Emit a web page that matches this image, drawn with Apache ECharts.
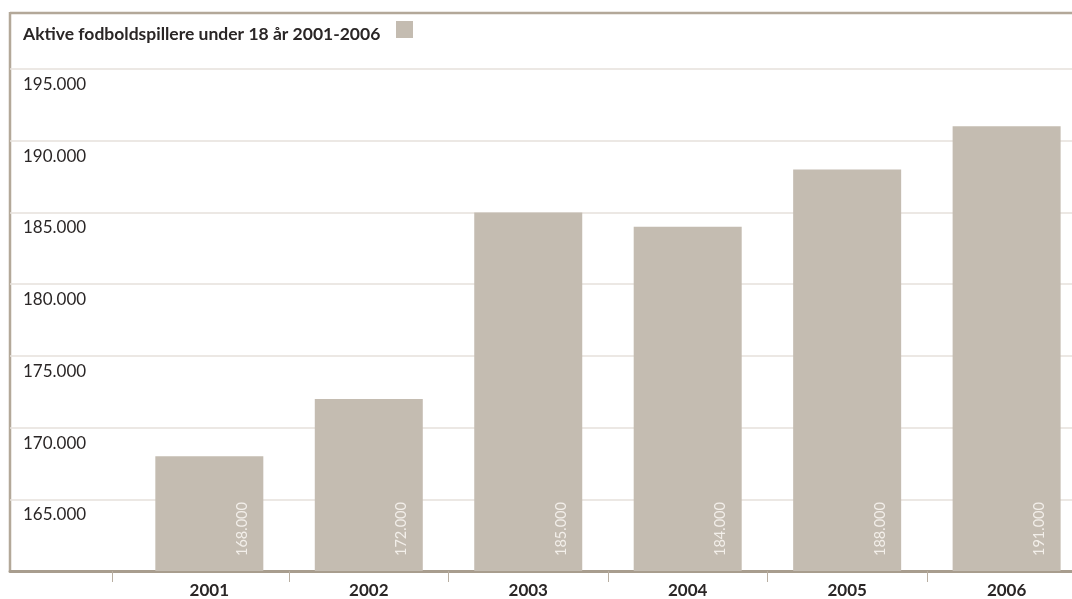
<!DOCTYPE html>
<html><head><meta charset="utf-8">
<script src="https://cdn.jsdelivr.net/npm/echarts@6/dist/echarts.min.js"></script>
<style>html,body{margin:0;padding:0;background:#fff}#c{width:1072px;height:599px}</style>
</head><body><div id="c"></div>
<script>
const titleText = 'Aktive fodboldspillere under 18 år 2001-2006';
const seriesName = 'Aktive fodboldspillere';
const years = [2001, 2002, 2003, 2004, 2005, 2006];
const players = [168000, 172000, 185000, 184000, 188000, 191000];
const yTickValues = [165000, 170000, 175000, 180000, 185000, 190000, 195000];
const xBoundaryTicks = [2000.39, 2001.5, 2002.5, 2003.5, 2004.5, 2005.5];

const fmt = v => String(v).replace(/\B(?=(\d{3})+(?!\d))/g, '.');
const FONT = 'Lato';
const frameColor = '#b3a899';
const barColor = '#c4bcb1';

const chart = echarts.init(document.getElementById('c'), null, {renderer: 'canvas'});
chart.setOption({
  animation: false,
  backgroundColor: '#fff',
  textStyle: {fontFamily: FONT},
  title: {
    text: titleText, left: 18, top: 18,
    textStyle: {fontFamily: FONT, fontSize: 17.5, fontWeight: 'bold', color: '#2a2626', lineHeight: 22}
  },
  legend: {
    left: 396, top: 21, padding: 0, itemWidth: 17, itemHeight: 17, icon: 'rect',
    formatter: () => '', selectedMode: false,
    data: [seriesName]
  },
  grid: {left: 10, right: 0, top: 69, bottom: 28, containLabel: false},
  xAxis: {
    type: 'value', min: 1999.75, max: 2006.41,
    splitLine: {show: false},
    axisLine: {show: true, lineStyle: {color: '#a89d8e', width: 3}},
    axisTick: {show: true, customValues: xBoundaryTicks, length: 11, lineStyle: {color: '#b8aea1', width: 1}},
    axisLabel: {customValues: years, formatter: v => String(v), fontFamily: FONT, fontSize: 17, fontWeight: 'bold', color: '#2a2626', margin: 11}
  },
  yAxis: {
    type: 'value', min: 160000, max: 195000, interval: 5000,
    axisLine: {show: false}, axisTick: {show: false},
    splitLine: {show: true, lineStyle: {color: '#e6e1db', width: 1.5}},
    axisLabel: {
      inside: true, margin: 13, align: 'left', verticalAlign: 'top', padding: [7, 0, 0, 0],
      customValues: yTickValues,
      formatter: v => fmt(v), fontFamily: FONT, fontSize: 17, color: '#2a2626'
    }
  },
  graphic: [
    {type: 'line', silent: true, shape: {x1: 10, y1: 13, x2: 1072, y2: 13}, style: {stroke: frameColor, lineWidth: 2.5}},
    {type: 'line', silent: true, shape: {x1: 10, y1: 12, x2: 10, y2: 571}, style: {stroke: frameColor, lineWidth: 2.5}}
  ],
  series: [{
    name: seriesName, type: 'bar', barWidth: 108,
    itemStyle: {color: barColor},
    data: years.map((y, i) => [y, players[i]]),
    label: {
      show: true, position: 'insideBottom', rotate: 90, align: 'left', verticalAlign: 'middle',
      distance: 15, offset: [0, 33],
      formatter: p => fmt(p.value[1]), fontFamily: FONT, fontSize: 14.5, color: '#f3efea'
    }
  }]
});
</script></body></html>
